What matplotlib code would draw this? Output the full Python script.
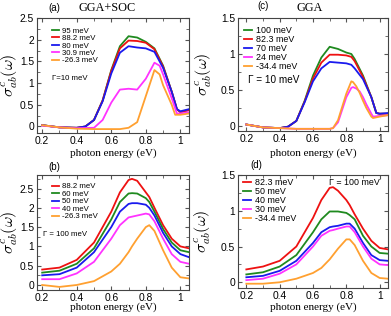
import numpy as np
import matplotlib.pyplot as plt
from matplotlib.ticker import AutoMinorLocator

plt.rcParams['font.family'] = 'Liberation Sans'
plt.rcParams['mathtext.fontset'] = 'cm'

# ---- panel (a): GGA+SOC, Gamma = 10 meV ----
a_labels = ['95 meV', '88.2 meV', '80 meV', '30.9 meV', '-26.3 meV']
a_x = [0.2, 0.3, 0.4, 0.45, 0.5, 0.55, 0.6, 0.65, 0.7, 0.75, 0.8, 0.85, 0.9, 0.95, 0.98, 1.0, 1.05]
a_green = [0.03, -0.02, -0.03, 0.0, 0.15, 0.6, 1.3, 1.85, 2.08, 2.05, 1.95, 1.8, 1.4, 0.8, 0.4, 0.33, 0.38]
a_red = [0.03, -0.02, -0.03, 0.0, 0.15, 0.6, 1.28, 1.8, 1.98, 1.97, 1.93, 1.78, 1.38, 0.8, 0.4, 0.33, 0.38]
a_blue = [0.03, -0.02, -0.03, 0.0, 0.15, 0.58, 1.22, 1.7, 1.85, 1.82, 1.8, 1.72, 1.35, 0.8, 0.4, 0.35, 0.4]
a_mag_x = [0.2, 0.3, 0.4, 0.5, 0.55, 0.6, 0.65, 0.7, 0.75, 0.8, 0.85, 0.88, 0.9, 0.95, 0.98, 1.0, 1.05]
a_mag = [0.02, -0.02, -0.04, -0.03, 0.15, 0.55, 0.85, 0.87, 0.85, 1.1, 1.47, 1.4, 1.2, 0.65, 0.3, 0.3, 0.33]
a_org_x = [0.2, 0.3, 0.4, 0.5, 0.65, 0.7, 0.75, 0.8, 0.85, 0.88, 0.9, 0.95, 0.97, 1.0, 1.05]
a_org = [0.03, -0.02, -0.05, -0.06, -0.06, -0.03, 0.1, 0.7, 1.3, 1.2, 0.95, 0.5, 0.27, 0.27, 0.3]

# ---- panel (c): GGA, Gamma = 10 meV ----
c_labels = ['100 meV', '82.3 meV', '70 meV', '24 meV', '-34.4 meV']
c_x = [0.2, 0.3, 0.4, 0.45, 0.5, 0.55, 0.6, 0.65, 0.7, 0.75, 0.8, 0.83, 0.85, 0.9, 0.95, 0.98, 1.0, 1.05]
c_green = [0.02, -0.02, -0.03, -0.01, 0.07, 0.35, 0.7, 0.95, 1.1, 1.07, 1.02, 1.0, 0.93, 0.7, 0.4, 0.18, 0.17, 0.17]
c_red = [0.02, -0.02, -0.03, -0.01, 0.07, 0.34, 0.66, 0.88, 0.99, 0.99, 0.98, 0.96, 0.9, 0.68, 0.4, 0.18, 0.17, 0.17]
c_blue = [0.02, -0.02, -0.03, -0.01, 0.07, 0.33, 0.62, 0.8, 0.89, 0.88, 0.87, 0.85, 0.8, 0.65, 0.4, 0.18, 0.17, 0.18]
c_low_x = [0.2, 0.3, 0.4, 0.5, 0.6, 0.7, 0.72, 0.75, 0.8, 0.83, 0.84, 0.86, 0.88, 0.9, 0.92, 0.95, 0.96, 1.0, 1.05]
c_mag = [0.02, -0.02, -0.03, -0.04, -0.04, -0.04, -0.03, 0.05, 0.4, 0.53, 0.54, 0.52, 0.48, 0.4, 0.3, 0.17, 0.13, 0.14, 0.15]
c_org = [0.02, -0.02, -0.03, -0.04, -0.04, -0.04, -0.03, 0.08, 0.45, 0.62, 0.61, 0.55, 0.46, 0.35, 0.25, 0.13, 0.11, 0.13, 0.15]

# ---- panel (b): GGA+SOC, Gamma = 100 meV ----
b_labels = ['88.2 meV', '60 meV', '50 meV', '40 meV', '-26.3 meV']
b_x = [0.2, 0.3, 0.4, 0.5, 0.6, 0.65, 0.7, 0.72, 0.75, 0.8, 0.82, 0.85, 0.9, 0.95, 1.0, 1.05]
b_red = [0.4, 0.45, 0.65, 1.1, 1.9, 2.4, 2.72, 2.75, 2.7, 2.4, 2.28, 2.0, 1.55, 1.2, 1.0, 0.95]
b_green = [0.32, 0.37, 0.55, 0.95, 1.7, 2.15, 2.37, 2.38, 2.37, 2.25, 2.15, 1.9, 1.45, 1.1, 0.9, 0.85]
b_blue = [0.25, 0.28, 0.45, 0.85, 1.5, 1.9, 2.1, 2.12, 2.12, 2.08, 2.0, 1.8, 1.35, 1.0, 0.8, 0.72]
b_mag = [0.15, 0.15, 0.3, 0.6, 1.2, 1.55, 1.75, 1.77, 1.8, 1.85, 1.83, 1.65, 1.2, 0.8, 0.6, 0.55]
b_org = [0.0, -0.05, 0.0, 0.1, 0.35, 0.55, 0.85, 1.0, 1.2, 1.5, 1.55, 1.4, 0.9, 0.45, 0.2, 0.17]

# ---- panel (d): GGA, Gamma = 100 meV ----
d_labels = ['82.3 meV', '50 meV', '40 meV', '30 meV', '-34.4 meV']
d_x = [0.2, 0.3, 0.4, 0.5, 0.6, 0.65, 0.7, 0.72, 0.75, 0.8, 0.82, 0.85, 0.9, 0.95, 1.0, 1.05]
d_red = [0.18, 0.22, 0.3, 0.5, 0.9, 1.15, 1.32, 1.33, 1.28, 1.15, 1.08, 0.95, 0.75, 0.58, 0.48, 0.46]
d_green = [0.11, 0.14, 0.22, 0.38, 0.7, 0.88, 0.99, 0.99, 0.99, 0.97, 0.94, 0.88, 0.65, 0.5, 0.41, 0.4]
d_blue = [0.07, 0.09, 0.16, 0.3, 0.55, 0.7, 0.77, 0.78, 0.79, 0.82, 0.82, 0.75, 0.55, 0.38, 0.31, 0.3]
d_mag = [0.03, 0.05, 0.12, 0.25, 0.5, 0.65, 0.72, 0.73, 0.75, 0.78, 0.78, 0.7, 0.5, 0.33, 0.25, 0.24]
d_org = [-0.02, -0.02, 0.0, 0.05, 0.13, 0.2, 0.32, 0.38, 0.47, 0.6, 0.6, 0.52, 0.3, 0.13, 0.06, 0.05]

GREEN, RED, BLUE, MAG, ORG = '#1f8a1f', '#ee1111', '#1a1aee', '#ff33ff', '#ffa030'

fig = plt.figure(figsize=(3.91, 3.16), dpi=100)
W, H = 391.0, 316.0


def add_ax(x0, y0, x1, y1):
    return fig.add_axes([x0 / W, 1 - y1 / H, (x1 - x0) / W, (y1 - y0) / H])


def style(ax, box, xlim, ylim, yticks, yticklabels, ylab_x, xlab_y):
    x0, y0, x1, y1 = box
    ax.set_xlim(*xlim)
    ax.set_ylim(*ylim)
    ax.set_xticks([0.2, 0.4, 0.6, 0.8, 1.0])
    ax.set_xticklabels(['0.2', '0.4', '0.6', '0.8', '1'])
    ax.set_yticks(yticks)
    ax.set_yticklabels(yticklabels)
    ax.xaxis.set_minor_locator(AutoMinorLocator(2))
    ax.yaxis.set_minor_locator(AutoMinorLocator(2))
    ax.tick_params(which='both', direction='in', top=True, right=True,
                   labelsize=7.4, pad=2, color='#555555')
    ax.tick_params(which='major', length=3)
    ax.tick_params(which='minor', length=2)
    for s in ax.spines.values():
        s.set_color('#444444')
        s.set_linewidth(0.8)
    ax.set_xlabel('photon energy (eV)', family='Liberation Serif', fontsize=8, va='center')
    ax.xaxis.set_label_coords(0.5, (y1 - xlab_y) / (y1 - y0))
    ax.set_ylabel(r'$\sigma^c_{ab}(\omega)$', fontsize=11.5, va='center')
    ax.yaxis.set_label_coords((ylab_x - x0) / (x1 - x0), 0.5)


def legend(ax, fs, bbox):
    ax.legend(loc='upper left', bbox_to_anchor=bbox, frameon=False, fontsize=fs,
              handlelength=0.9, handletextpad=0.4, labelspacing=0.0,
              borderaxespad=0.0, borderpad=0.0)


lw = 1.3

# (a)
box = (37, 18, 189, 133)
ax = add_ax(*box)
ax.plot(a_x, a_green, color=GREEN, lw=lw, label=a_labels[0])
ax.plot(a_x, a_red, color=RED, lw=lw, label=a_labels[1])
ax.plot(a_x, a_blue, color=BLUE, lw=lw, label=a_labels[2])
ax.plot(a_mag_x, a_mag, color=MAG, lw=lw, label=a_labels[3])
ax.plot(a_org_x, a_org, color=ORG, lw=lw, label=a_labels[4])
style(ax, box, (0.17, 1.05), (-0.15, 2.5), [0, 0.5, 1, 1.5, 2, 2.5],
      ['0', '0.5', '1', '1.5', '2', '2.5'], 9.5, 153)
legend(ax, 5.6, (0.1, 0.92))
ax.text(0.1, 0.47, 'Γ=10 meV', transform=ax.transAxes, fontsize=5.6, va='center')
fig.text(48 / W, 1 - 8 / H, '(a)', fontsize=7, va='center')
fig.text(107 / W, 1 - 8 / H, 'GGA+SOC', fontsize=8.8, family='Liberation Serif',
         va='center', ha='center')

# (c)
box = (238, 18, 388, 131)
ax = add_ax(*box)
ax.plot(c_x, c_green, color=GREEN, lw=lw, label=c_labels[0])
ax.plot(c_x, c_red, color=RED, lw=lw, label=c_labels[1])
ax.plot(c_x, c_blue, color=BLUE, lw=lw, label=c_labels[2])
ax.plot(c_low_x, c_mag, color=MAG, lw=lw, label=c_labels[3])
ax.plot(c_low_x, c_org, color=ORG, lw=lw, label=c_labels[4])
style(ax, box, (0.15, 1.05), (-0.07, 1.5), [0, 0.5, 1, 1.5],
      ['0', '0.5', '1', '1.5'], 204, 153)
legend(ax, 6.4, (0.04, 0.93))
ax.text(0.067, 0.45, 'Γ = 10 meV', transform=ax.transAxes, fontsize=7.2, va='center')
fig.text(257 / W, 1 - 6 / H, '(c)', fontsize=7, va='center')
fig.text(310 / W, 1 - 8 / H, 'GGA', fontsize=8.8, family='Liberation Serif',
         va='center', ha='center')

# (b)
box = (37, 175, 189, 290)
ax = add_ax(*box)
ax.plot(b_x, b_red, color=RED, lw=lw, label=b_labels[0])
ax.plot(b_x, b_green, color=GREEN, lw=lw, label=b_labels[1])
ax.plot(b_x, b_blue, color=BLUE, lw=lw, label=b_labels[2])
ax.plot(b_x, b_mag, color=MAG, lw=lw, label=b_labels[3])
ax.plot(b_x, b_org, color=ORG, lw=lw, label=b_labels[4])
style(ax, box, (0.17, 1.05), (-0.13, 2.85), [0, 0.5, 1, 1.5, 2, 2.5],
      ['0', '0.5', '1', '1.5', '2', '2.5'], 9.5, 307)
legend(ax, 5.6, (0.1, 0.93))
ax.text(0.04, 0.48, 'Γ = 100 meV', transform=ax.transAxes, fontsize=5.6, va='center')
fig.text(48 / W, 1 - 167 / H, '(b)', fontsize=7, va='center')

# (d)
box = (238, 175, 388, 288)
ax = add_ax(*box)
ax.plot(d_x, d_red, color=RED, lw=lw, label=d_labels[0])
ax.plot(d_x, d_green, color=GREEN, lw=lw, label=d_labels[1])
ax.plot(d_x, d_blue, color=BLUE, lw=lw, label=d_labels[2])
ax.plot(d_x, d_mag, color=MAG, lw=lw, label=d_labels[3])
ax.plot(d_x, d_org, color=ORG, lw=lw, label=d_labels[4])
style(ax, box, (0.15, 1.05), (-0.08, 1.5), [0, 0.5, 1, 1.5],
      ['0', '0.5', '1', '1.5'], 203, 307)
legend(ax, 6.4, (0.033, 0.97))
ax.text(0.947, 0.93, 'Γ = 100 meV', transform=ax.transAxes, fontsize=6.4,
        ha='right', va='center')
fig.text(250 / W, 1 - 165 / H, '(d)', fontsize=7, va='center')

fig.savefig('out.png', dpi=100)
